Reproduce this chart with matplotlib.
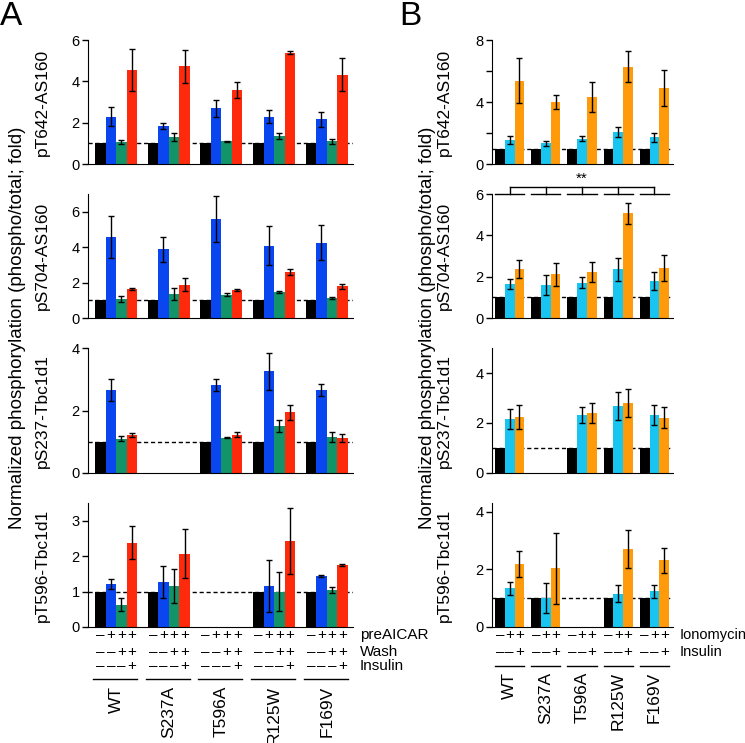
import numpy as np
import matplotlib.pyplot as plt
from matplotlib import transforms

plt.rcParams['font.family'] = ['Liberation Sans', 'DejaVu Sans']

nan = np.nan
genotypes = ['WT', 'S237A', 'T596A', 'R125W', 'F169V']

# panel A: basal, preAICAR, preAICAR+wash, preAICAR+wash+insulin
a_colors = ['#000000', '#0a46f0', '#129468', '#ff2a0c']
a_names = ['pT642-AS160', 'pS704-AS160', 'pS237-Tbc1d1', 'pT596-Tbc1d1']
a_ylim = [6, 7, 4, 3.5]
a_ticks = [[0, 2, 4, 6], [0, 2, 4, 6], [0, 2, 4], [0, 1, 2, 3]]
a_rows = ['preAICAR', 'Wash', 'Insulin']
a_signs = [['–', '+', '+', '+'], ['–', '–', '+', '+'], ['–', '–', '–', '+']]

a_mean = [
    [[1, 2.29, 1.05, 4.55], [1, 1.84, 1.29, 4.74], [1, 2.69, 1.10, 3.58],
     [1, 2.29, 1.35, 5.39], [1, 2.16, 1.10, 4.31]],
    [[1, 4.57, 1.08, 1.64], [1, 3.87, 1.36, 1.89], [1, 5.57, 1.32, 1.57],
     [1, 4.09, 1.47, 2.60], [1, 4.25, 1.13, 1.79]],
    [[1, 2.65, 1.10, 1.22], [nan, nan, nan, nan], [1, 2.82, 1.13, 1.23],
     [1, 3.25, 1.50, 1.94], [1, 2.65, 1.15, 1.13]],
    [[1, 1.21, 0.63, 2.38], [1, 1.26, 1.17, 2.07], [nan, nan, nan, nan],
     [1, 1.15, 1.00, 2.43], [1, 1.44, 1.04, 1.75]],
]
a_err = [
    [[0, 0.45, 0.10, 1.00], [0, 0.15, 0.20, 0.80], [0, 0.43, 0.02, 0.40],
     [0, 0.30, 0.13, 0.08], [0, 0.37, 0.13, 0.80]],
    [[0, 1.20, 0.15, 0.08], [0, 0.70, 0.33, 0.35], [0, 1.30, 0.08, 0.05],
     [0, 1.10, 0.05, 0.15], [0, 1.00, 0.08, 0.13]],
    [[0, 0.35, 0.08, 0.07], [0, 0, 0, 0], [0, 0.20, 0.02, 0.09],
     [0, 0.58, 0.20, 0.23], [0, 0.20, 0.15, 0.13]],
    [[0, 0.15, 0.18, 0.46], [0, 0.45, 0.48, 0.69], [0, 0, 0, 0],
     [0, 0.73, 0.55, 0.92], [0, 0.02, 0.08, 0.03]],
]

# panel B: basal, ionomycin, ionomycin+insulin
b_colors = ['#000000', '#18c4f0', '#ff9a0a']
b_ylim = [8, 6, 5, 4.3]
b_ticks = [[0, 2, 4, 6, 8], [0, 2, 4, 6], [0, 2, 4], [0, 2, 4]]
b_rows = ['Ionomycin', 'Insulin']
b_signs = [['–', '+', '+'], ['–', '–', '+']]

b_mean = [
    [[1, 1.54, 5.37], [1, 1.33, 4.00], [1, 1.63, 4.32], [1, 2.05, 6.29], [1, 1.73, 4.90]],
    [[1, 1.65, 2.38], [1, 1.60, 2.11], [1, 1.70, 2.22], [1, 2.35, 5.06], [1, 1.80, 2.43]],
    [[1, 2.18, 2.25], [nan, nan, nan], [1, 2.32, 2.41], [1, 2.67, 2.80], [1, 2.32, 2.22]],
    [[1, 1.34, 2.17], [1, 1.01, 2.03], [nan, nan, nan], [1, 1.16, 2.70], [1, 1.24, 2.31]],
]
b_err = [
    [[0, 0.25, 1.45], [0, 0.15, 0.47], [0, 0.15, 0.97], [0, 0.33, 1.03], [0, 0.30, 1.17]],
    [[0, 0.23, 0.44], [0, 0.48, 0.57], [0, 0.27, 0.47], [0, 0.55, 0.49], [0, 0.45, 0.62]],
    [[0, 0.40, 0.48], [0, 0, 0], [0, 0.33, 0.39], [0, 0.56, 0.57], [0, 0.39, 0.41]],
    [[0, 0.22, 0.45], [0, 0.52, 1.22], [0, 0, 0], [0, 0.28, 0.67], [0, 0.23, 0.44]],
]

ylab = 'Normalized phosphorylation (phospho/total; fold)'

fig = plt.figure(figsize=(7.45, 7.43), dpi=100)
W, H = 745.0, 743.0
tops = [40, 194, 348, 503]
bots = [164, 318, 473, 627]


def draw_panel(ax, mean, err, colors, stride, ylim, ticks, name, name_x, blank=()):
    mean = np.array(mean, dtype=float)
    err = np.array(err, dtype=float)
    nb = mean.shape[1]
    for i in range(nb):
        x = stride * np.arange(5) + i
        ax.bar(x, mean[:, i], width=1.0, color=colors[i], linewidth=0, zorder=2)
        ok = err[:, i] > 0
        ax.errorbar(x[ok], mean[ok, i], yerr=err[ok, i], fmt='none', ecolor='k',
                    elinewidth=1, capsize=2.5, capthick=1, zorder=3)
    ax.axhline(1, color='k', ls=(0, (3, 2)), lw=1, zorder=1)
    ax.set_ylim(0, ylim)
    ax.set_yticks(ticks)
    ax.set_yticklabels(['' if t in blank else str(t) for t in ticks])
    ax.set_xticks([])
    for s in ['top', 'right']:
        ax.spines[s].set_visible(False)
    ax.tick_params(axis='y', length=4, width=1, labelsize=10.5, pad=2)
    ax.set_ylabel(name, fontsize=12.5)
    ax.yaxis.set_label_coords(name_x, 0.5)


def under(ax, off_px):
    return ax.get_xaxis_transform() + transforms.ScaledTranslation(
        0, -off_px / 100.0, fig.dpi_scale_trans)


axes_a = []
axes_b = []
for k in range(4):
    axa = fig.add_axes([88 / W, 1 - bots[k] / H, 265 / W, (bots[k] - tops[k]) / H])
    axa.set_xlim(-1.17, 24.0)
    draw_panel(axa, a_mean[k], a_err[k], a_colors, 5, a_ylim[k], a_ticks[k],
               a_names[k], -0.143)
    axes_a.append(axa)
    axb = fig.add_axes([492 / W, 1 - bots[k] / H, 181 / W, (bots[k] - tops[k]) / H])
    axb.set_xlim(-0.8, 17.7)
    draw_panel(axb, b_mean[k], b_err[k], b_colors, 3.7, b_ylim[k], b_ticks[k],
               a_names[k], -0.221, blank=(2, 6) if k == 0 else ())
    axes_b.append(axb)

# significance comb above pS704 panel B
axb = axes_b[1]
for g in range(5):
    c = 3.7 * g + 1
    axb.plot([3.7 * g - 0.5, 3.7 * g + 2.5], [6, 6], color='k', lw=1, clip_on=False)
    axb.plot([c, c], [6, 6.33], color='k', lw=1, clip_on=False)
axb.plot([1, 3.7 * 4 + 1], [6.33, 6.33], color='k', lw=1, clip_on=False)
axb.text(3.7 * 2 + 1, 6.75, '**', ha='center', va='center', fontsize=11)

# treatment rows and genotype labels
ax = axes_a[3]
row_off = [8, 25, 39]
for r in range(3):
    for g in range(5):
        for i in range(4):
            ax.text(5 * g + i, 0, a_signs[r][i], transform=under(ax, row_off[r]),
                    ha='center', va='center', fontsize=11)
    ax.text(1.026, 0, a_rows[r], transform=ax.transAxes + transforms.ScaledTranslation(
        0, -row_off[r] / 100.0, fig.dpi_scale_trans), ha='left', va='center', fontsize=11)
for g in range(5):
    ax.plot([5 * g - 0.7, 5 * g + 3.5], [0, 0], color='k', lw=1, clip_on=False,
            transform=under(ax, 52))
    ax.text(5 * g + 1.5, 0, genotypes[g], transform=under(ax, 59), rotation=90,
            ha='center', va='top', fontsize=12.5)

ax = axes_b[3]
row_off = [8, 25]
for r in range(2):
    for g in range(5):
        for i in range(3):
            ax.text(3.7 * g + i, 0, b_signs[r][i], transform=under(ax, row_off[r]),
                    ha='center', va='center', fontsize=11)
    ax.text(1.036, 0, b_rows[r], transform=ax.transAxes + transforms.ScaledTranslation(
        0, -row_off[r] / 100.0, fig.dpi_scale_trans), ha='left', va='center', fontsize=10.5)
for g in range(5):
    ax.plot([3.7 * g - 0.5, 3.7 * g + 2.5], [0, 0], color='k', lw=1, clip_on=False,
            transform=under(ax, 39))
    ax.text(3.7 * g + 1, 0, genotypes[g], transform=under(ax, 45), rotation=90,
            ha='center', va='top', fontsize=12.5)

fig.text(18 / W, 1 - 328 / H, ylab, rotation=90, ha='center', va='center', fontsize=13.5)
fig.text(427 / W, 1 - 328 / H, ylab, rotation=90, ha='center', va='center', fontsize=13.5)
fig.text(0.0, 1 - 1 / H, 'A', ha='left', va='top', fontsize=24)
fig.text(399 / W, 1 - 1 / H, 'B', ha='left', va='top', fontsize=24)

fig.savefig('out.png', dpi=100)
